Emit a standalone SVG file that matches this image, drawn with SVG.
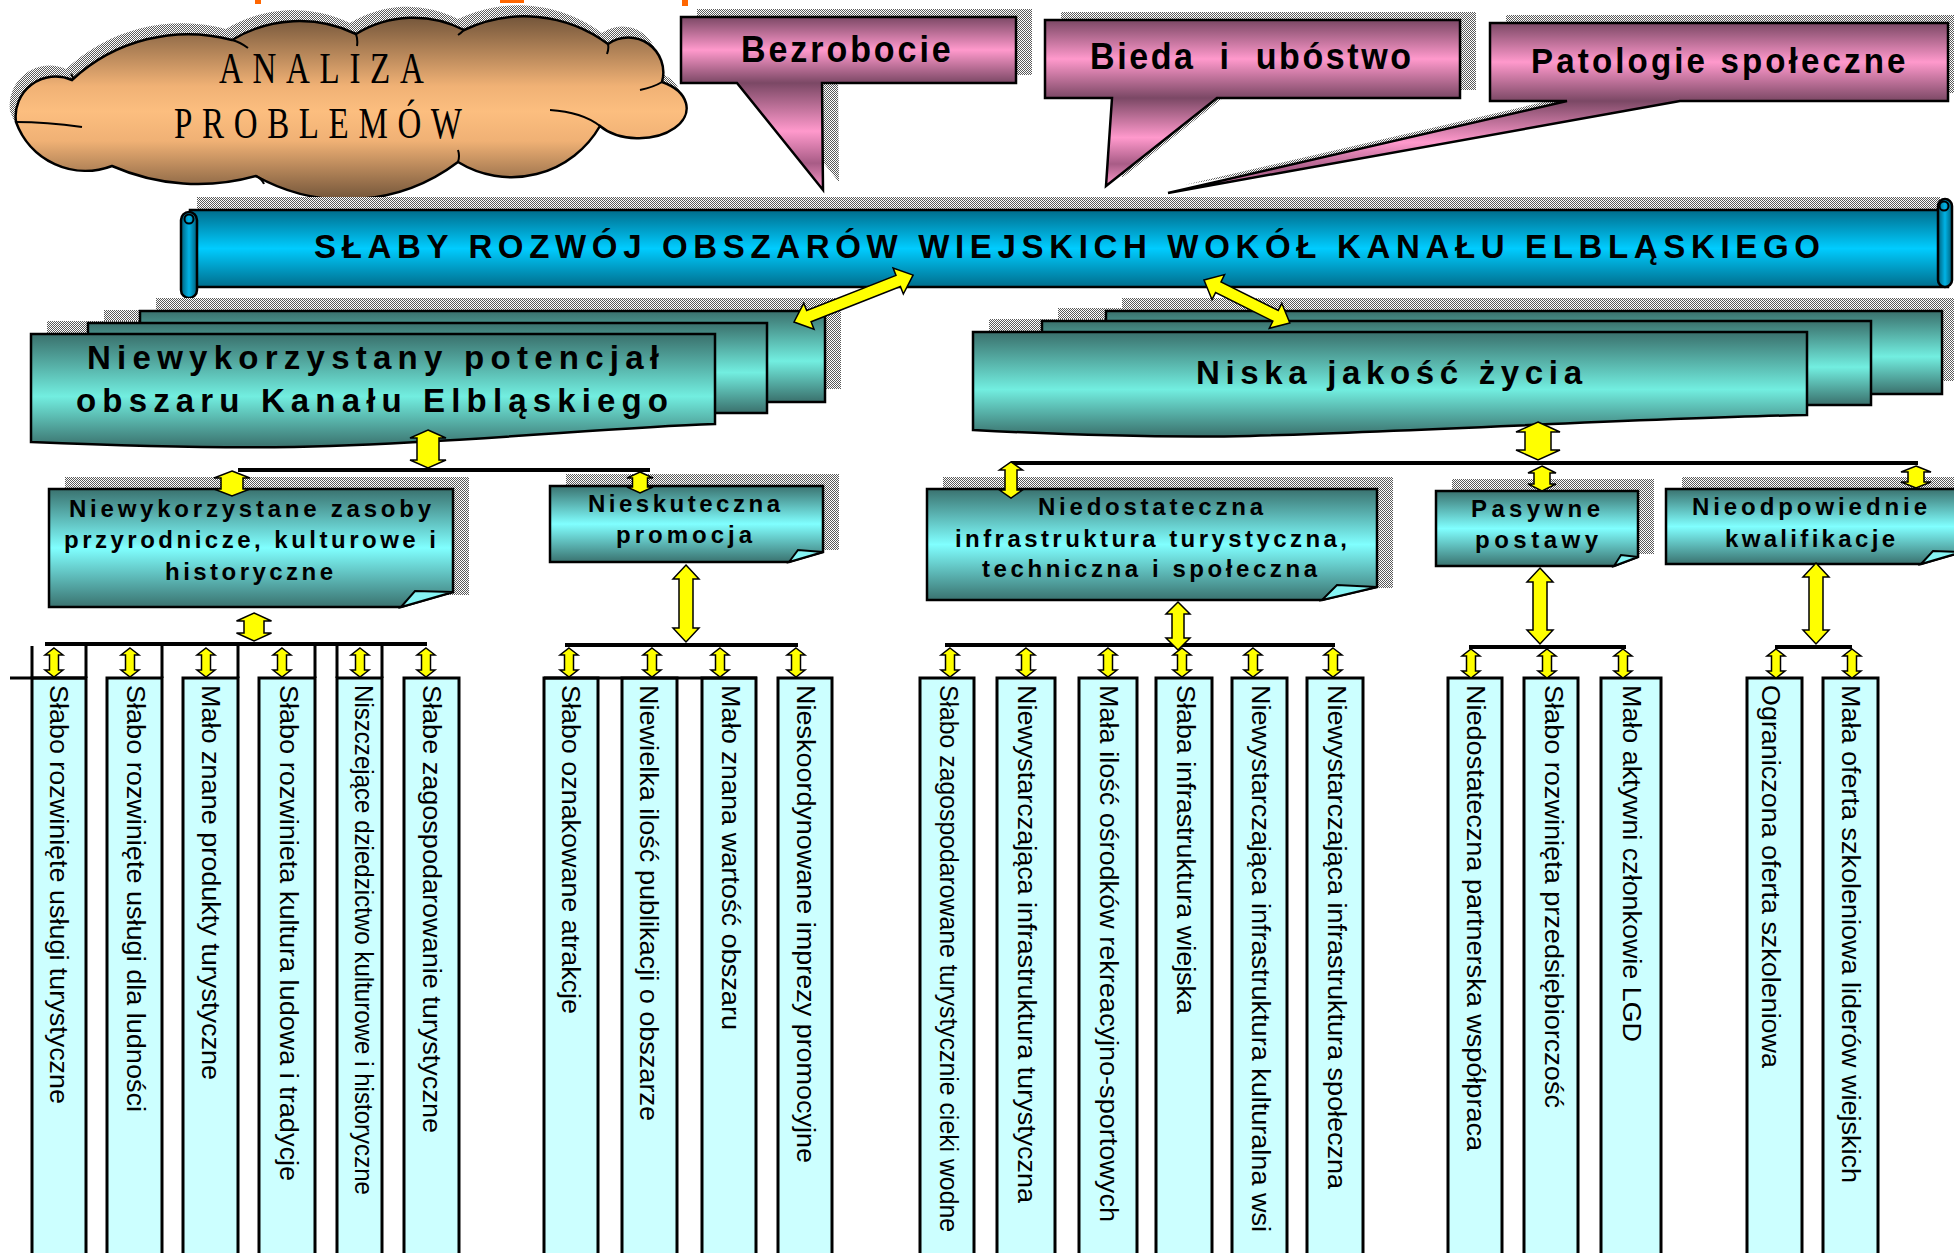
<svg xmlns="http://www.w3.org/2000/svg" width="1954" height="1253" viewBox="0 0 1954 1253">
<defs>
<pattern id="chk" width="2" height="2" patternUnits="userSpaceOnUse"><rect width="2" height="2" fill="#fff"/><rect width="1" height="1" fill="#5a5a5a"/><rect x="1" y="1" width="1" height="1" fill="#5a5a5a"/></pattern>
<linearGradient id="cloudG" x1="0" y1="0" x2="0" y2="1"><stop offset="0" stop-color="#73553a"/><stop offset="0.38" stop-color="#f0b175"/><stop offset="0.52" stop-color="#fcbe7f"/><stop offset="0.68" stop-color="#f0b175"/><stop offset="1" stop-color="#73553a"/></linearGradient>
<linearGradient id="pinkG" x1="0" y1="0" x2="0" y2="1"><stop offset="0" stop-color="#7b4865"/><stop offset="0.5" stop-color="#ff99cc"/><stop offset="1" stop-color="#7b4865"/></linearGradient>
<linearGradient id="pinkP" x1="0" y1="0" x2="0" y2="1"><stop offset="0" stop-color="#7b4865"/><stop offset="0.45" stop-color="#ff99cc"/><stop offset="0.75" stop-color="#a85c86"/><stop offset="1" stop-color="#ff99cc"/></linearGradient>
<linearGradient id="blueG" x1="0" y1="0" x2="0" y2="1"><stop offset="0" stop-color="#006d8c"/><stop offset="0.5" stop-color="#00ccff"/><stop offset="1" stop-color="#006d8c"/></linearGradient>
<linearGradient id="rollG" x1="0" y1="0" x2="1" y2="0"><stop offset="0" stop-color="#005f7a"/><stop offset="0.5" stop-color="#00b3e6"/><stop offset="1" stop-color="#005f7a"/></linearGradient>
<linearGradient id="tealB" x1="0" y1="0" x2="0" y2="1"><stop offset="0" stop-color="#3a706c"/><stop offset="0.55" stop-color="#72eee0"/><stop offset="1" stop-color="#3a706c"/></linearGradient>
<linearGradient id="tealS" x1="0" y1="0" x2="0" y2="1"><stop offset="0" stop-color="#3a726f"/><stop offset="0.5" stop-color="#80ffff"/><stop offset="1" stop-color="#3a726f"/></linearGradient>
<path id="sa" d="M0,0 L9,7 L4.5,7 L4.5,22 L9,22 L0,29 L-9,22 L-4.5,22 L-4.5,7 L-9,7 Z"/>
<path id="cloudPath" d="M72,80 A170,170 0 0 1 232,40 A130,130 0 0 1 356,34 A110,110 0 0 1 464,30 A140,140 0 0 1 608,44 A35,35 0 0 1 662,82 A48,30 0 1 1 600,126 A102,102 0 0 1 458,162 A185,185 0 0 1 256,176 A214,214 0 0 1 112,166 A74,74 0 0 1 16,122 A40,40 0 0 1 72,80 Z"/>
<style>
.sh{fill:url(#chk)}
.ol{stroke:#000;stroke-width:2.5}
.fold{fill:#86f4f4;stroke:#000;stroke-width:2}
.col{fill:#ccffff;stroke:#000;stroke-width:3}
.ln{stroke:#000;stroke-width:3;fill:none}
.bar{stroke:#000;stroke-width:4;fill:none}
.ar{fill:#ffff00;stroke:#000;stroke-width:1.5;stroke-linejoin:miter}
.tb{font-family:"Liberation Sans",Arial,sans-serif;font-weight:bold;fill:#000}
.tc{font-family:"Liberation Sans",Arial,sans-serif;font-size:25px;fill:#000}
.ts{font-family:"Liberation Serif","Times New Roman",serif;fill:#000}
</style>
</defs>
<rect width="1954" height="1253" fill="#fff"/>

<g id="top-fragments" fill="#ff6600">
<rect x="255" y="0" width="6" height="4"/>
<rect x="500" y="0" width="24" height="3"/>
<rect x="682" y="0" width="6" height="6"/>
</g>

<g id="cloud">
<use href="#cloudPath" class="sh" transform="translate(-6,-11)"/>
<use href="#cloudPath" fill="url(#cloudG)" stroke="#000" stroke-width="2.5"/>
<path fill="none" stroke="#000" stroke-width="2" d="M232,40 q8,2 16,8 M356,34 q2,6 1,12 M464,30 q-3,3 -6,5 M608,44 q1,5 -1,10 M662,82 q-8,5 -22,8 M600,126 q-18,-14 -50,-16 M458,162 q2,-6 0,-12 M256,176 q6,3 8,8 M16,122 q30,0 66,5 M72,80 q2,-3 -1,-6"/>
<text class="ts" font-size="44" transform="translate(219,83) scale(0.75,1)" textLength="273" lengthAdjust="spacing">ANALIZA</text>
<text class="ts" font-size="44" transform="translate(174,138) scale(0.75,1)" textLength="384" lengthAdjust="spacing">PROBLEMÓW</text>
</g>

<g id="bezrobocie">
<rect class="sh" x="697" y="9" width="335" height="66"/>
<polygon class="sh" points="753,75 838,75 839,182"/>
<rect x="681" y="17" width="335" height="66" fill="url(#pinkG)"/>
<polygon points="737,83 822,83 823,190" fill="url(#pinkP)"/>
<path class="ol" fill="none" d="M681,17 H1016 V83 H822 L823,190 L737,83 H681 Z"/>
<text class="tb" font-size="37" transform="translate(741,62) scale(0.92,1)" textLength="228" lengthAdjust="spacing">Bezrobocie</text>
</g>

<g id="bieda">
<rect class="sh" x="1061" y="12" width="415" height="78"/>
<polygon class="sh" points="1128,90 1233,90 1122,178"/>
<rect x="1045" y="20" width="415" height="78" fill="url(#pinkG)"/>
<polygon points="1112,98 1217,98 1106,186" fill="url(#pinkP)"/>
<path class="ol" fill="none" d="M1045,20 H1460 V98 H1217 L1106,186 L1112,98 H1045 Z"/>
<text class="tb" font-size="37" xml:space="preserve" transform="translate(1090,69) scale(0.92,1)" textLength="349" lengthAdjust="spacing">Bieda  i  ubóstwo</text>
</g>

<g id="patologie">
<rect class="sh" x="1506" y="15" width="458" height="78"/>
<polygon class="sh" points="1583,93 1696,93 1184,185"/>
<rect x="1490" y="23" width="458" height="78" fill="url(#pinkG)"/>
<polygon points="1567,101 1680,101 1168,193" fill="url(#pinkP)"/>
<path class="ol" fill="none" d="M1490,23 H1948 V101 H1680 L1168,193 L1567,101 H1490 Z"/>
<text class="tb" font-size="36" transform="translate(1531,73) scale(0.92,1)" textLength="407" lengthAdjust="spacing">Patologie społeczne</text>
</g>

<g id="banner">
<rect class="sh" x="197" y="197" width="1743" height="90"/>
<rect x="190" y="210" width="1758" height="77" fill="url(#blueG)" class="ol"/>
<rect x="1938" y="199" width="14" height="88" rx="7" fill="url(#rollG)" class="ol"/>
<circle cx="1944" cy="206" r="4.5" fill="none" stroke="#000" stroke-width="2"/>
<rect x="181" y="212" width="16" height="86" rx="8" fill="url(#rollG)" class="ol"/>
<circle cx="189" cy="219" r="4.5" fill="none" stroke="#000" stroke-width="2"/>
<text class="tb" font-size="33" x="314" y="258" textLength="1506" lengthAdjust="spacing">SŁABY ROZWÓJ OBSZARÓW WIEJSKICH WOKÓŁ KANAŁU ELBLĄSKIEGO</text>
</g>

<g id="potencjal">
<rect class="sh" x="156" y="298" width="685" height="91"/>
<rect class="sh" x="104" y="310" width="679" height="90"/>
<path class="sh" transform="translate(16,-13)" d="M31,334 H715 V424 C600,428 500,440 330,446 C250,449 150,447 31,442 Z"/>
<rect x="140" y="311" width="685" height="91" fill="url(#tealB)" class="ol"/>
<rect x="88" y="323" width="679" height="90" fill="url(#tealB)" class="ol"/>
<path fill="url(#tealB)" class="ol" d="M31,334 H715 V424 C600,428 500,440 330,446 C250,449 150,447 31,442 Z"/>
<text class="tb" font-size="33" x="87" y="369" textLength="572" lengthAdjust="spacing">Niewykorzystany potencjał</text>
<text class="tb" font-size="33" x="76" y="412" textLength="592" lengthAdjust="spacing">obszaru Kanału Elbląskiego</text>
</g>

<g id="niska">
<rect class="sh" x="1122" y="298" width="836" height="83"/>
<rect class="sh" x="1058" y="308" width="829" height="84"/>
<path class="sh" transform="translate(16,-13)" d="M973,332 H1807 V415 C1650,418 1450,430 1250,436 C1150,438 1050,434 973,430 Z"/>
<rect x="1106" y="311" width="836" height="83" fill="url(#tealB)" class="ol"/>
<rect x="1042" y="321" width="829" height="84" fill="url(#tealB)" class="ol"/>
<path fill="url(#tealB)" class="ol" d="M973,332 H1807 V415 C1650,418 1450,430 1250,436 C1150,438 1050,434 973,430 Z"/>
<text class="tb" font-size="33" x="1196" y="384" textLength="386" lengthAdjust="spacing">Niska jakość życia</text>
</g>

<g id="zasoby">
<rect class="sh" x="65" y="477" width="404" height="118"/>
<polygon fill="url(#tealS)" class="ol" points="49,489 453,489 453,592 401,607 49,607"/>
<polygon class="fold" points="401,607 415,591 453,592"/>
<text class="tb" font-size="24" x="69" y="517" textLength="362" lengthAdjust="spacing">Niewykorzystane zasoby</text>
<text class="tb" font-size="24" x="64" y="548" textLength="372" lengthAdjust="spacing">przyrodnicze, kulturowe i</text>
<text class="tb" font-size="24" x="165" y="580" textLength="168" lengthAdjust="spacing">historyczne</text>
</g>

<g id="promocja">
<rect class="sh" x="566" y="474" width="273" height="76"/>
<polygon fill="url(#tealS)" class="ol" points="550,486 823,486 823,552 789,562 550,562"/>
<polygon class="fold" points="789,562 798,550 823,552"/>
<text class="tb" font-size="24" x="588" y="512" textLength="192" lengthAdjust="spacing">Nieskuteczna</text>
<text class="tb" font-size="24" x="616" y="543" textLength="136" lengthAdjust="spacing">promocja</text>
</g>

<g id="infrastruktura">
<rect class="sh" x="943" y="477" width="450" height="111"/>
<polygon fill="url(#tealS)" class="ol" points="927,489 1377,489 1377,587 1322,600 927,600"/>
<polygon class="fold" points="1322,600 1337,585 1377,587"/>
<text class="tb" font-size="24" x="1038" y="515" textLength="225" lengthAdjust="spacing">Niedostateczna</text>
<text class="tb" font-size="24" x="955" y="547" textLength="392" lengthAdjust="spacing">infrastruktura turystyczna,</text>
<text class="tb" font-size="24" x="982" y="577" textLength="335" lengthAdjust="spacing">techniczna i społeczna</text>
</g>

<g id="pasywne">
<rect class="sh" x="1452" y="479" width="202" height="75"/>
<polygon fill="url(#tealS)" class="ol" points="1436,491 1638,491 1638,557 1614,566 1436,566"/>
<polygon class="fold" points="1614,566 1621,555 1638,557"/>
<text class="tb" font-size="24" x="1471" y="517" textLength="129" lengthAdjust="spacing">Pasywne</text>
<text class="tb" font-size="24" x="1475" y="548" textLength="123" lengthAdjust="spacing">postawy</text>
</g>

<g id="kwalifikacje">
<rect class="sh" x="1682" y="477" width="300" height="75"/>
<polygon fill="url(#tealS)" class="ol" points="1666,489 1962,489 1962,552 1921,564 1666,564"/>
<polygon class="fold" points="1921,564 1933,551 1962,552"/>
<text class="tb" font-size="24" x="1692" y="515" textLength="235" lengthAdjust="spacing">Nieodpowiednie</text>
<text class="tb" font-size="24" x="1725" y="547" textLength="170" lengthAdjust="spacing">kwalifikacje</text>
</g>

<g id="columns">
<g id="c1"><rect class="col" x="32" y="678" width="54" height="590"/><text class="tc" transform="translate(50,685) rotate(90)" textLength="419" lengthAdjust="spacingAndGlyphs">Słabo rozwinięte usługi turystyczne</text></g>
<g id="c2"><rect class="col" x="107" y="678" width="55" height="590"/><text class="tc" transform="translate(127,685) rotate(90)" textLength="427" lengthAdjust="spacingAndGlyphs">Słabo rozwinięte usługi dla ludności</text></g>
<g id="c3"><rect class="col" x="183" y="678" width="55" height="590"/><text class="tc" transform="translate(202,685) rotate(90)" textLength="395" lengthAdjust="spacingAndGlyphs">Mało znane produkty turystyczne</text></g>
<g id="c4"><rect class="col" x="259" y="678" width="56" height="590"/><text class="tc" transform="translate(280,685) rotate(90)" textLength="496" lengthAdjust="spacingAndGlyphs">Słabo rozwinieta kultura ludowa i tradycje</text></g>
<g id="c5"><rect class="col" x="337" y="678" width="45" height="590"/><text class="tc" transform="translate(355,685) rotate(90)" textLength="510" lengthAdjust="spacingAndGlyphs">Niszczejące dziedzictwo kulturowe i historyczne</text></g>
<g id="c6"><rect class="col" x="404" y="678" width="55" height="590"/><text class="tc" transform="translate(423,685) rotate(90)" textLength="448" lengthAdjust="spacingAndGlyphs">Słabe zagospodarowanie turystyczne</text></g>
<path class="ln" d="M10,678 H86 M32,646 V678 M86,646 V678 M162,646 V678 M238,646 V678 M315,646 V678 M337,646 V678 M382,646 V678"/>

<g id="c7"><rect class="col" x="544" y="678" width="54" height="590"/><text class="tc" transform="translate(562,685) rotate(90)" textLength="329" lengthAdjust="spacingAndGlyphs">Słabo oznakowane atrakcje</text></g>
<g id="c8"><rect class="col" x="622" y="678" width="55" height="590"/><text class="tc" transform="translate(640,685) rotate(90)" textLength="436" lengthAdjust="spacingAndGlyphs">Niewielka ilość publikacji o obszarze</text></g>
<g id="c9"><rect class="col" x="702" y="678" width="54" height="590"/><text class="tc" transform="translate(722,685) rotate(90)" textLength="345" lengthAdjust="spacingAndGlyphs">Mało znana wartość obszaru</text></g>
<g id="c10"><rect class="col" x="778" y="678" width="54" height="590"/><text class="tc" transform="translate(797,685) rotate(90)" textLength="478" lengthAdjust="spacingAndGlyphs">Nieskoordynowane imprezy promocyjne</text></g>
<path class="ln" d="M544,678 H757"/>

<g id="c11"><rect class="col" x="920" y="678" width="54" height="590"/><text class="tc" transform="translate(940,685) rotate(90)" textLength="547" lengthAdjust="spacingAndGlyphs">Słabo zagospodarowane turystycznie cieki wodne</text></g>
<g id="c12"><rect class="col" x="997" y="678" width="58" height="590"/><text class="tc" transform="translate(1018,685) rotate(90)" textLength="518" lengthAdjust="spacingAndGlyphs">Niewystarczająca infrastruktura turystyczna</text></g>
<g id="c13"><rect class="col" x="1079" y="678" width="58" height="590"/><text class="tc" transform="translate(1100,685) rotate(90)" textLength="537" lengthAdjust="spacingAndGlyphs">Mała ilość ośrodków rekreacyjno-sportowych</text></g>
<g id="c14"><rect class="col" x="1156" y="678" width="56" height="590"/><text class="tc" transform="translate(1177,685) rotate(90)" textLength="329" lengthAdjust="spacingAndGlyphs">Słaba infrastruktura wiejska</text></g>
<g id="c15"><rect class="col" x="1232" y="678" width="55" height="590"/><text class="tc" transform="translate(1252,685) rotate(90)" textLength="547" lengthAdjust="spacingAndGlyphs">Niewystarczająca infrastruktura kulturalna wsi</text></g>
<g id="c16"><rect class="col" x="1307" y="678" width="56" height="590"/><text class="tc" transform="translate(1328,685) rotate(90)" textLength="504" lengthAdjust="spacingAndGlyphs">Niewystarczająca infrastruktura społeczna</text></g>

<g id="c17"><rect class="col" x="1448" y="678" width="54" height="590"/><text class="tc" transform="translate(1467,685) rotate(90)" textLength="466" lengthAdjust="spacingAndGlyphs">Niedostateczna partnerska współpraca</text></g>
<g id="c18"><rect class="col" x="1524" y="678" width="54" height="590"/><text class="tc" transform="translate(1545,685) rotate(90)" textLength="423" lengthAdjust="spacingAndGlyphs">Słabo rozwinięta przedsiębiorczość</text></g>
<g id="c19"><rect class="col" x="1601" y="678" width="60" height="590"/><text class="tc" transform="translate(1623,685) rotate(90)" textLength="357" lengthAdjust="spacingAndGlyphs">Mało aktywni członkowie LGD</text></g>

<g id="c20"><rect class="col" x="1747" y="678" width="55" height="590"/><text class="tc" transform="translate(1762,685) rotate(90)" textLength="383" lengthAdjust="spacingAndGlyphs">Ograniczona oferta szkoleniowa</text></g>
<g id="c21"><rect class="col" x="1823" y="678" width="55" height="590"/><text class="tc" transform="translate(1842,685) rotate(90)" textLength="498" lengthAdjust="spacingAndGlyphs">Mała oferta szkoleniowa liderów wiejskich</text></g>
</g>

<g id="connectors">
<path class="bar" d="M238,470 H650 M1011,463 H1918 M45,644 H427 M565,645 H798 M945,645 H1335 M1469,647 H1626 M1775,647 H1852"/>
<polygon class="ar" transform="translate(794,322) rotate(-21.5)" points="0,0 16,-14 16,-6 112,-6 112,-14 128,0 112,14 112,6 16,6 16,14"/>
<polygon class="ar" transform="translate(1204,280) rotate(26.6)" points="0,0 16,-14 16,-6 80,-6 80,-14 96,0 80,14 80,6 16,6 16,14"/>
<polygon class="ar" points="428,430 446,438 439,438 439,460 446,460 428,468 410,460 417,460 417,438 410,438"/>
<polygon class="ar" points="232,471 250,478 243,478 243,489 250,489 232,496 214,489 221,489 221,478 214,478"/>
<polygon class="ar" points="640,472 653,478 647.5,478 647.5,487 653,487 640,493 627,487 632.5,487 632.5,478 627,478"/>
<polygon class="ar" points="686,565 699,579 693,579 693,628 699,628 686,642 673,628 679,628 679,579 673,579"/>
<polygon class="ar" points="254,613 271.5,621 264,621 264,633 271.5,633 254,641 236.5,633 244,633 244,621 236.5,621"/>
<polygon class="ar" points="1538,422 1560,432 1551,432 1551,450 1560,450 1538,460 1516,450 1525,450 1525,432 1516,432"/>
<polygon class="ar" points="1011,462 1022.5,470 1017,470 1017,490 1022.5,490 1011,498 999.5,490 1005,490 1005,470 999.5,470"/>
<polygon class="ar" points="1542,466 1556,473 1550,473 1550,484 1556,484 1542,491 1528,484 1534,484 1534,473 1528,473"/>
<polygon class="ar" points="1916,466 1931,472 1924,472 1924,482 1931,482 1916,488 1901,482 1908,482 1908,472 1901,472"/>
<polygon class="ar" points="1178,602 1190,614 1184,614 1184,638 1190,638 1178,650 1166,638 1172,638 1172,614 1166,614"/>
<polygon class="ar" points="1540,568 1553,582 1547,582 1547,630 1553,630 1540,644 1527,630 1533,630 1533,582 1527,582"/>
<polygon class="ar" points="1816,563 1829,577 1823,577 1823,630 1829,630 1816,644 1803,630 1809,630 1809,577 1803,577"/>
<g class="ar">
<use href="#sa" x="54" y="648"/><use href="#sa" x="130" y="648"/><use href="#sa" x="206" y="648"/><use href="#sa" x="282" y="648"/><use href="#sa" x="360" y="648"/><use href="#sa" x="426" y="648"/>
<use href="#sa" x="569" y="648"/><use href="#sa" x="652" y="648"/><use href="#sa" x="720" y="648"/><use href="#sa" x="796" y="648"/>
<use href="#sa" x="950" y="648"/><use href="#sa" x="1026" y="648"/><use href="#sa" x="1108" y="648"/><use href="#sa" x="1182" y="648"/><use href="#sa" x="1253" y="648"/><use href="#sa" x="1333" y="648"/>
<use href="#sa" x="1471" y="649"/><use href="#sa" x="1547" y="649"/><use href="#sa" x="1623" y="649"/>
<use href="#sa" x="1776" y="649"/><use href="#sa" x="1852" y="649"/>
</g>
</g>
</svg>
